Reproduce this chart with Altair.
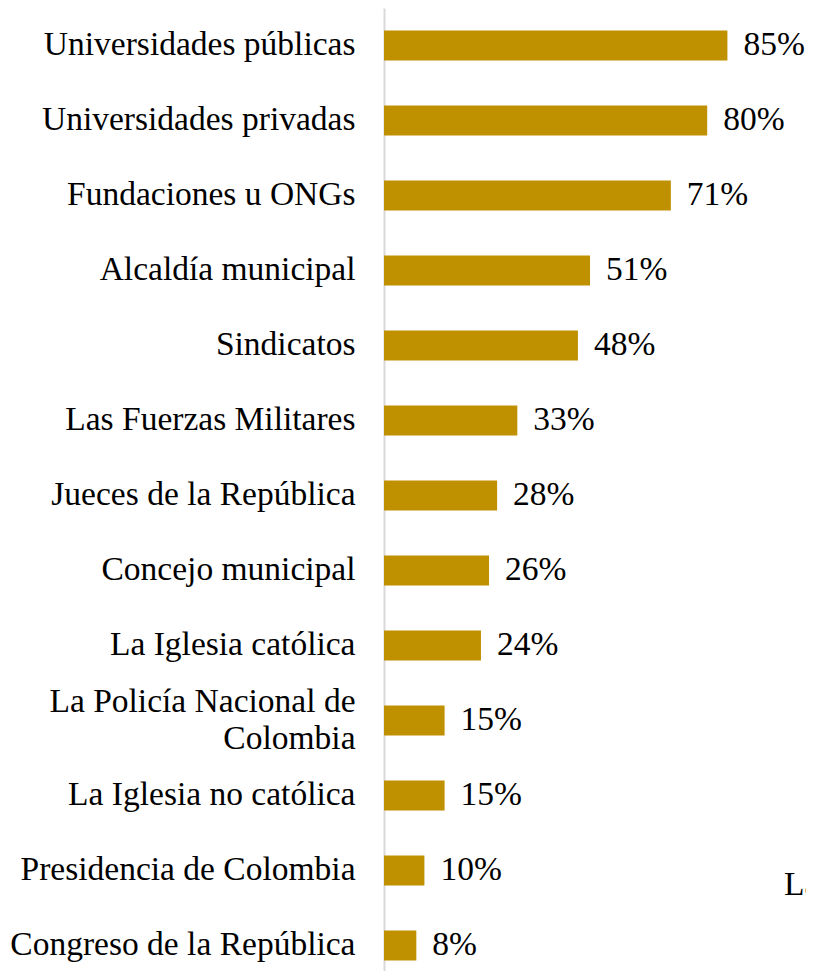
import altair as alt
import pandas as pd

categories = [
    "Universidades públicas",
    "Universidades privadas",
    "Fundaciones u ONGs",
    "Alcaldía municipal",
    "Sindicatos",
    "Las Fuerzas Militares",
    "Jueces de la República",
    "Concejo municipal",
    "La Iglesia católica",
    "La Policía Nacional de|Colombia",
    "La Iglesia no católica",
    "Presidencia de Colombia",
    "Congreso de la República",
]
values = [85, 80, 71, 51, 48, 33, 28, 26, 24, 15, 15, 10, 8]
labels = [f"{v}%" for v in values]

df = pd.DataFrame({"cat": categories, "val": values, "lab": labels})

FONT = "Liberation Serif"
FS = 33.5

y_enc = alt.Y(
    "cat:N",
    sort=categories,
    scale=alt.Scale(paddingInner=0.6, paddingOuter=0.22, align=0.68),
    axis=alt.Axis(
        title=None,
        ticks=False,
        labelFont=FONT,
        labelFontSize=FS,
        labelColor="#000000",
        labelPadding=29,
        labelLimit=500,
        labelLineHeight=37,
        labelExpr="split(datum.label, '|')",
        labelOffset=alt.condition("indexof(datum.label, '|') >= 0", alt.value(-18), alt.value(0)),
        domainColor="#d9d9d9",
        domainWidth=2,
    ),
)
x_enc = alt.X("val:Q", scale=alt.Scale(domain=[0, 100]), axis=None)

bars = alt.Chart(df).mark_bar(color="#BF9000").encode(x=x_enc, y=y_enc)
text = alt.Chart(df).mark_text(
    align="left", baseline="middle", dx=16, font=FONT, fontSize=FS, color="#000000"
).encode(x=x_enc, y=alt.Y("cat:N", sort=categories), text="lab:N")

stray = alt.Chart(pd.DataFrame({"t": ["La"]})).mark_text(
    align="left", baseline="middle", dy=15, font=FONT, fontSize=FS, color="#000000"
).encode(x=alt.datum(99), y=alt.datum("Presidencia de Colombia"), text="t:N")

chart = (
    alt.layer(bars, text, stray)
    .properties(
        width=404,
        height=963,
        autosize="none",
        padding={"left": 376, "top": 0, "right": 18, "bottom": 0},
    )
    .configure_view(strokeWidth=0, stroke="transparent")
)
chart.save("out.html", embed_options={"renderer": "svg", "actions": False})
